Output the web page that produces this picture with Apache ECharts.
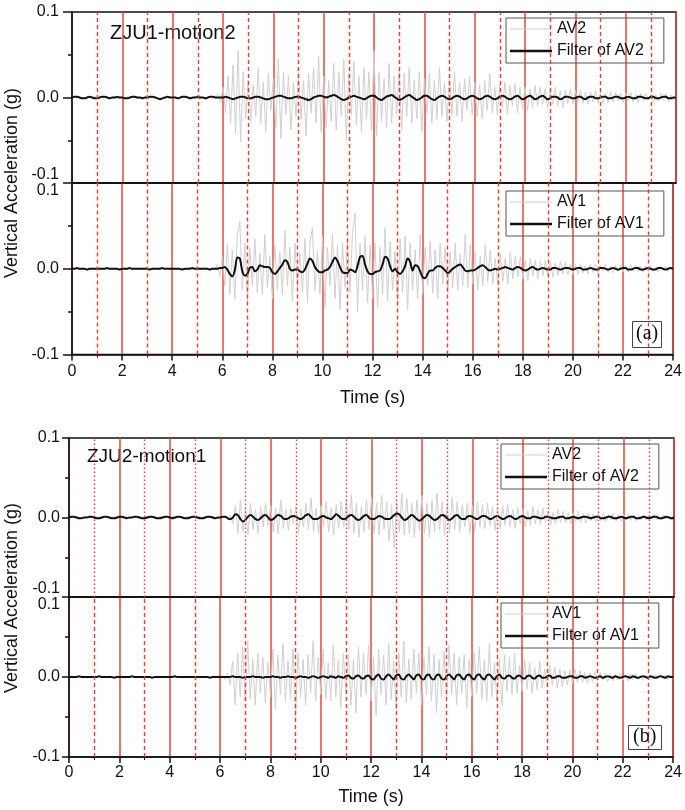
<!DOCTYPE html>
<html><head><meta charset="utf-8">
<script src="https://cdn.jsdelivr.net/npm/echarts@6/dist/echarts.min.js"></script>
<style>html,body{margin:0;padding:0;background:#fff}#c{width:685px;height:810px}</style>
</head><body><div id="c"></div>
<script>
// Time axis: samples every 0.1 s from 0 to 24 s
const timeS = Array.from({length: 241}, (_, i) => +(i / 10).toFixed(1));
const xTicks = [0, 2, 4, 6, 8, 10, 12, 14, 16, 18, 20, 22, 24];
const oddSeconds = [1, 3, 5, 7, 9, 11, 13, 15, 17, 19, 21, 23];
const yTicks = [-0.1, 0.0, 0.1];

// Values in milli-g, one row per second
const av2A_mg = [
 0,1,-1,1,0,-1,1,-1,0,1,
 -1,1,0,-1,1,0,-1,1,-1,0,
 1,-1,1,0,-1,1,-1,0,1,-1,
 0,1,-1,1,0,-1,1,-1,0,1,
 -1,1,0,-1,2,-1,0,1,-2,1,
 0,-1,1,-2,1,0,-1,2,4,-6,
 12,-18,25,-30,38,-42,55,-52,30,-25,
 20,-28,15,-22,35,-30,18,-40,28,-15,
 22,-35,45,-48,30,-20,25,-38,18,-22,
 30,-25,20,-45,28,-18,35,-30,48,-40,
 25,-35,20,-28,40,-38,30,-22,45,-50,
 28,-20,42,-32,25,-40,35,-25,30,-38,
 55,-45,30,-28,22,-35,40,-30,25,-20,
 32,-38,28,-22,35,-30,20,-25,30,-40,
 22,-18,28,-30,20,-25,35,-22,18,-28,
 25,-20,30,-22,18,-28,22,-15,25,-20,
 18,-22,15,-25,20,-15,28,-18,12,-20,
 15,-12,18,-20,14,-10,16,-18,12,-14,
 12,-15,10,-12,14,-10,12,-8,10,-12,
 10,-8,12,-10,8,-12,9,-7,10,-8,
 8,-6,9,-7,6,-8,7,-5,8,-6,
 6,-7,5,-6,7,-5,6,-4,5,-6,
 5,-4,6,-5,4,-6,5,-4,5,-3,
 4,-5,3,-4,5,-3,4,-5,3,-4,
 2];
const filterAv2A_mg = [
 0,1,1,0,-1,-1,0,1,0,-1,
 -1,0,1,1,0,-1,0,0,1,0,
 0,-1,-1,0,1,1,0,0,-1,0,
 0,1,1,0,-1,-2,-1,0,1,0,
 0,0,-1,0,1,1,0,-1,0,0,
 1,0,0,-1,0,1,1,0,0,0,
 0,1,0,-1,-2,-1,0,1,1,0,
 -1,-1,0,1,1,0,-1,-2,-2,-1,
 0,1,2,2,1,0,-1,-1,0,1,
 1,0,-1,-2,-3,-2,0,1,2,2,
 1,0,1,2,3,2,0,-2,-3,-2,
 0,1,2,1,0,-1,-2,-1,1,2,
 2,0,-2,-3,-1,1,2,3,1,-1,
 -3,-2,0,2,3,1,-1,-3,-2,0,
 2,2,0,-2,-3,-1,1,2,1,-1,
 -2,-1,1,2,1,-1,-2,-1,1,2,
 1,-1,-2,-1,1,2,1,-1,-2,-1,
 1,2,1,-1,-2,-1,1,2,0,-2,
 -1,1,2,0,-2,-1,1,2,0,-2,
 -1,1,1,0,-2,-1,1,1,0,-1,
 -1,1,1,-1,-2,0,1,1,-1,-1,
 0,1,1,-1,-1,0,1,1,-1,-1,
 0,1,0,-1,-1,1,1,0,-1,-1,
 1,1,-1,-1,0,1,1,-1,-1,0,
 0];
const av1A_mg = [
 0,1,0,-1,1,0,-1,1,0,-1,
 1,0,-1,1,0,-1,0,1,-1,0,
 1,-1,0,1,-1,0,1,-1,0,1,
 -1,0,1,-1,0,1,-1,0,1,-1,
 0,1,-1,0,1,-1,0,1,-1,0,
 1,-1,0,1,-1,0,1,-1,5,-8,
 15,-20,28,-30,22,-35,40,55,-25,30,
 -38,25,-20,35,-28,18,-30,40,-22,15,
 -35,28,-25,20,-30,45,-20,25,-38,30,
 -22,18,-28,35,-40,30,48,-25,20,-30,
 38,-45,25,-20,40,-35,28,-48,30,-22,
 35,-28,42,65,-50,30,-25,38,-40,28,
 -35,30,-45,25,-30,48,-38,32,-25,20,
 -42,35,-28,38,-48,30,-25,22,-35,40,
 -30,25,-20,32,-28,22,-35,30,-18,25,
 -28,20,-22,30,-25,18,-20,40,-22,28,
 -18,20,-25,15,-20,28,-15,22,-18,12,
 -20,18,-15,12,-18,20,-12,15,-10,14,
 -12,10,-14,12,-8,10,-12,9,-8,10,
 -9,8,-10,7,-8,9,-6,8,-7,6,
 -6,5,-7,6,-5,4,-6,5,-4,5,
 -5,4,-3,5,-4,3,-5,4,-3,4,
 -4,3,-4,5,-3,4,-3,3,-4,3,
 -3,4,-3,2,-4,3,-2,3,-3,2,
 0];
const filterAv1A_mg = [
 0,0,1,0,0,0,-1,0,0,0,
 0,0,0,0,1,0,0,0,0,-1,
 0,0,0,1,0,0,0,0,0,0,
 0,-1,0,0,0,0,1,0,0,0,
 0,0,0,0,-1,0,0,0,1,0,
 0,0,0,0,0,-1,0,0,0,1,
 1,2,-1,-6,-9,-2,13,12,-3,-8,
 -6,1,2,-3,-1,4,3,2,2,1,
 -4,-6,-3,1,5,10,8,0,-2,-1,
 -1,-3,-4,-1,6,12,9,2,-2,-4,
 -4,-2,-1,2,8,13,9,2,-4,-5,
 -5,-1,-2,-4,3,14,15,5,-3,-6,
 -6,-4,-3,-2,5,14,12,3,-3,0,
 -4,-6,-3,3,12,8,-2,4,3,-3,
 -10,-11,-6,-2,-2,1,3,3,1,-2,
 -5,-3,0,2,4,5,2,-2,-3,-2,
 -2,-1,1,3,4,2,-1,-2,-1,0,
 -1,0,1,2,1,0,-1,1,2,1,
 -1,-2,-1,1,2,0,-1,0,1,0,
 -1,-1,1,1,0,-1,0,1,1,0,
 -1,0,1,1,-1,-1,0,1,0,-1,
 -1,1,1,0,-1,0,1,0,-1,0,
 1,1,-1,-1,0,1,1,-1,-1,0,
 1,0,-1,-1,1,1,0,-1,0,1,
 0];
const av2B_mg = [
 0,1,-1,0,1,-1,1,0,-1,1,
 -1,0,1,-1,1,0,-1,1,0,-1,
 1,-1,0,1,-1,1,0,-1,1,-1,
 0,1,-1,1,0,-1,1,-1,0,1,
 -1,1,0,-1,1,-1,0,1,-1,1,
 0,-1,1,-1,0,1,-1,1,0,-1,
 1,-1,2,-2,3,-8,15,-20,22,-18,
 12,-22,18,-15,10,-20,14,-12,18,-10,
 15,-18,12,-20,22,-14,10,-16,12,-8,
 14,-20,10,-12,18,-15,25,-18,12,-20,
 15,-12,20,-18,12,-22,16,-14,20,-12,
 22,-15,28,-20,18,-25,14,-18,22,-15,
 25,-20,18,-22,28,-15,20,-30,16,-38,
 20,-18,30,-22,24,-20,18,-25,22,-16,
 28,-20,18,-25,22,-18,30,-15,20,-22,
 18,-20,25,-15,20,-18,16,-12,18,-20,
 15,-18,20,-12,16,-14,18,-10,14,-16,
 12,-14,15,-10,16,-12,10,-14,12,-8,
 10,-12,8,-10,14,-8,10,-9,12,-7,
 8,-10,6,-8,10,-6,8,-7,6,-8,
 6,-5,8,-6,5,-7,6,-4,5,-6,
 5,-4,6,-5,4,-3,5,-4,3,-5,
 4,-3,5,-4,3,-4,2,-3,4,-3,
 3,-2,4,-3,2,-3,3,-2,2,-3,
 0];
const filterAv2B_mg = [
 0,1,1,0,-1,-1,0,0,1,1,
 0,-1,-1,0,1,1,0,-1,-1,0,
 1,1,0,-1,0,0,1,1,0,-1,
 -1,0,1,1,0,-1,-1,0,1,1,
 0,-1,0,1,1,0,-1,-1,0,1,
 1,0,-1,-1,0,1,1,0,-1,0,
 0,1,1,-1,-2,0,4,3,-2,-5,
 -3,1,3,1,-2,-3,-1,2,3,0,
 -3,-2,1,3,2,-1,-2,-1,1,2,
 1,-1,-2,0,3,4,1,-2,-2,-1,
 1,2,0,-1,-2,1,4,2,-1,-2,
 -1,2,3,1,-2,-3,-1,2,3,0,
 -2,-2,0,2,1,-1,-2,-2,0,3,
 5,4,0,-3,-2,1,3,1,-2,-4,
 -2,1,3,2,-1,-3,-2,1,3,2,
 -1,-3,-1,2,3,0,-2,-2,1,2,
 1,-1,-2,0,2,2,0,-2,-1,1,
 2,0,-2,-1,1,2,0,-2,-1,1,
 2,0,-1,-1,1,1,0,-1,-1,1,
 1,0,-1,-1,0,1,1,-1,-1,0,
 1,0,-1,0,1,1,0,-1,0,1,
 1,-1,-1,0,1,1,-1,-1,0,1,
 0,-1,0,1,1,-1,-1,0,1,0,
 -1,0,1,1,-1,-1,0,1,0,-1,
 0];
const av1B_mg = [
 0,1,-1,1,0,-1,1,-1,0,1,
 -1,1,0,-1,1,-1,2,-1,0,1,
 -1,1,0,-1,1,0,-1,1,-1,0,
 1,-1,1,0,-1,1,-1,0,1,-1,
 1,0,-1,1,-1,0,1,-1,1,0,
 -1,1,-1,0,1,-1,1,0,-1,1,
 -1,2,-3,5,-10,20,-35,30,-25,38,
 -30,45,-28,22,-35,30,-20,25,-32,18,
 -25,35,-40,28,-22,42,-30,20,-28,35,
 -50,30,-25,22,-35,28,-20,45,-30,25,
 -22,35,-28,18,-30,40,-25,22,-38,30,
 -20,28,-35,22,-45,38,-25,30,-22,40,
 -30,25,-48,35,-22,28,-35,42,-28,20,
 -40,30,-25,45,-32,22,-28,35,-20,30,
 -35,25,-22,38,-30,28,-45,22,-25,32,
 -28,40,-22,30,-35,25,-20,28,-38,22,
 -25,30,-20,38,-28,22,-30,42,-25,18,
 -30,22,-35,28,-18,25,-22,30,-20,15,
 -18,22,-15,18,-20,12,-16,20,-14,10,
 -12,15,-10,12,-14,10,-12,8,-10,9,
 -8,10,-6,8,-7,6,-8,5,-6,7,
 -5,6,-4,5,-6,4,-5,3,-4,5,
 -4,3,-5,4,-3,4,-3,2,-4,3,
 -3,2,-3,3,-2,3,-2,2,-3,2,
 0];
const filterAv1B_mg = [
 0,0,0,0,1,0,0,0,0,0,
 0,0,1,0,0,0,0,0,-1,0,
 0,0,0,0,0,1,0,0,0,0,
 0,0,0,-1,0,0,0,0,0,0,
 0,0,1,0,0,0,0,0,0,0,
 0,0,0,0,0,0,-1,0,0,0,
 0,0,0,0,0,1,0,0,0,-1,
 0,0,0,1,0,0,0,-1,0,0,
 0,1,0,0,-1,0,0,1,0,0,
 -1,0,1,0,0,-1,0,1,0,-1,
 0,1,0,-1,1,0,-1,1,0,-1,
 1,2,-1,-2,1,2,-1,-2,1,2,
 -2,-3,1,3,-2,-3,1,3,0,-3,
 2,3,-2,-3,1,3,0,-3,2,3,
 -2,-3,2,3,-2,-3,2,3,-2,-3,
 1,3,0,-3,2,3,-1,-3,2,3,
 -1,-3,2,3,-1,-3,2,3,0,-3,
 1,3,-1,-2,1,2,-1,-2,1,2,
 -1,-2,1,2,-1,-2,1,2,-1,-1,
 1,2,-1,-1,1,1,-1,-1,0,1,
 1,-1,-1,1,1,-1,0,1,0,-1,
 0,1,-1,0,1,0,-1,1,0,-1,
 0,1,0,-1,1,0,-1,0,1,0,
 -1,1,0,-1,0,1,0,-1,1,0,
 0];

const panelTitles = ['ZJU1-motion2', 'ZJU2-motion1'];
const panelTags = ['(a)', '(b)'];
const yName = 'Vertical Acceleration (g)';
const xName = 'Time (s)';

const FONT = "'Liberation Sans', Arial, Helvetica, sans-serif";
const RED = '#e5493d';
const DASH_RED = '#ee3b2e';
const GRAY = '#d0d0d0';
const INK = '#111';

const toG = arr => arr.map((v, i) => [timeS[i], v / 1000]);

function mkGrid(l, t, w, h) {
  return {left: l, top: t, width: w, height: h, show: true, borderColor: INK, borderWidth: 1.5, backgroundColor: 'transparent'};
}
const grids = [mkGrid(72, 12, 604, 171), mkGrid(72, 183, 604, 171.5), mkGrid(69, 438, 605, 159), mkGrid(69, 597, 605, 160)];

function mkX(gi, labels, margin, gap) {
  return {
    type: 'value', gridIndex: gi, min: xTicks[0], max: xTicks[xTicks.length - 1], interval: xTicks[1] - xTicks[0],
    axisLine: {show: true, onZero: false, lineStyle: {color: INK, width: 1.5}},
    axisTick: {show: labels, length: 6, lineStyle: {color: INK, width: 1.5}},
    minorTick: {show: labels, splitNumber: 2, length: 3, lineStyle: {color: INK, width: 1}},
    axisLabel: {show: labels, fontSize: 16, color: INK, fontFamily: FONT, margin: margin},
    splitLine: {show: true, lineStyle: {color: RED, width: 1.5}},
    minorSplitLine: {show: false},
    name: labels ? xName : '', nameLocation: 'middle', nameGap: gap,
    nameTextStyle: {fontSize: 18, fontFamily: FONT, color: INK}
  };
}
function fmtY(v) { const r = Math.round(v * 10) / 10; return (r === 0 ? 0 : r).toFixed(1); }
function mkY(gi, upper, tickLen, margin) {
  return {
    type: 'value', gridIndex: gi, min: yTicks[0], max: yTicks[yTicks.length - 1], interval: yTicks[1] - yTicks[0],
    axisLine: {show: true, onZero: false, lineStyle: {color: INK, width: 1.5}},
    axisTick: {show: true, length: tickLen, lineStyle: {color: INK, width: 1.5}},
    minorTick: {show: true, splitNumber: 2, length: 4, lineStyle: {color: INK, width: 1.5}},
    splitLine: {show: false},
    axisLabel: {
      fontSize: 16, color: INK, fontFamily: FONT, margin: margin, lineHeight: 16,
      formatter: v => {
        const s = fmtY(v);
        if (upper && Math.abs(v - yTicks[0]) < 1e-9) return s + '\n ';
        if (!upper && Math.abs(v - yTicks[yTicks.length - 1]) < 1e-9) return ' \n' + s;
        return s;
      }
    }
  };
}

const xAxes = [mkX(0, false, 9, 35), mkX(1, true, 9, 35), mkX(2, false, 8, 31), mkX(3, true, 8, 31)];
const yAxes = [mkY(0, true, 9, 13), mkY(1, false, 9, 13), mkY(2, true, 7, 9), mkY(3, false, 7, 9)];

const dashes = [[4, 3], [4, 3], [1.5, 2.5], [4, 3]];
const rawSets = [
  ['AV2', av2A_mg, 'Filter of AV2', filterAv2A_mg],
  ['AV1', av1A_mg, 'Filter of AV1', filterAv1A_mg],
  ['AV2', av2B_mg, 'Filter of AV2', filterAv2B_mg],
  ['AV1', av1B_mg, 'Filter of AV1', filterAv1B_mg]
];
const series = [];
rawSets.forEach((s, i) => {
  series.push({type: 'line', name: s[0], xAxisIndex: i, yAxisIndex: i, data: toG(s[1]), symbol: 'none', z: 2,
    lineStyle: {color: GRAY, width: 1}, itemStyle: {color: GRAY}, animation: false,
    markLine: {silent: true, symbol: ['none', 'none'], label: {show: false}, animation: false,
      lineStyle: {color: DASH_RED, width: 1.4, type: dashes[i], opacity: 1},
      itemStyle: {color: DASH_RED},
      emphasis: {disabled: true},
      data: oddSeconds.map(x => ({xAxis: x}))}});
  series.push({type: 'line', name: s[2], xAxisIndex: i, yAxisIndex: i, data: toG(s[3]), symbol: 'none', z: 3, smooth: 0.3,
    lineStyle: {color: INK, width: 2}, itemStyle: {color: INK}, animation: false});
});

const thinIcon = 'path://M0,0h42v1.2h-42z';
const thickIcon = 'path://M0,0h42v2.4h-42z';
function mkLegend(l, t, names) {
  return {left: l, top: t, orient: 'vertical',
    data: [{name: names[0], icon: thinIcon, itemStyle: {color: GRAY}}, {name: names[1], icon: thickIcon, itemStyle: {color: INK}}],
    itemWidth: 42, itemHeight: 14, itemGap: 6, symbolKeepAspect: true,
    padding: [3, 20, 4, 4], borderColor: '#555', borderWidth: 1, selectedMode: false,
    textStyle: {fontSize: 16, fontFamily: FONT, color: INK}};
}
const legends = [
  mkLegend(506, 18, ['AV2', 'Filter of AV2']),
  mkLegend(506, 191, ['AV1', 'Filter of AV1']),
  mkLegend(501, 444, ['AV2', 'Filter of AV2']),
  mkLegend(501, 603, ['AV1', 'Filter of AV1'])
];

const serif = "'Liberation Serif', 'Times New Roman', serif";
const titles = [
  {text: panelTags[0], left: 632, top: 321, padding: [3, 4, 4, 4], borderColor: '#444', borderWidth: 1,
   textStyle: {fontFamily: serif, fontSize: 20, fontWeight: 'normal', color: INK}},
  {text: panelTags[1], left: 628, top: 725, padding: [2, 5, 3, 5], borderColor: '#444', borderWidth: 1,
   textStyle: {fontFamily: serif, fontSize: 20, fontWeight: 'normal', color: INK}}
];

const graphics = [
  {type: 'text', left: 110, top: 23, style: {text: panelTitles[0], font: '20px ' + FONT, fill: INK}},
  {type: 'text', left: 87, top: 447, style: {text: panelTitles[1], font: '19px ' + FONT, fill: INK}},
  {type: 'text', x: 12, y: 183, rotation: Math.PI / 2, style: {text: yName, font: '18px ' + FONT, fill: INK, align: 'center', verticalAlign: 'middle'}},
  {type: 'text', x: 12, y: 598, rotation: Math.PI / 2, style: {text: yName, font: '18px ' + FONT, fill: INK, align: 'center', verticalAlign: 'middle'}}
];

const chart = echarts.init(document.getElementById('c'), null, {renderer: 'canvas'});
chart.setOption({
  backgroundColor: '#fff',
  animation: false,
  title: titles,
  grid: grids,
  xAxis: xAxes,
  yAxis: yAxes,
  legend: legends,
  graphic: graphics,
  series: series
});
</script>
</body></html>
